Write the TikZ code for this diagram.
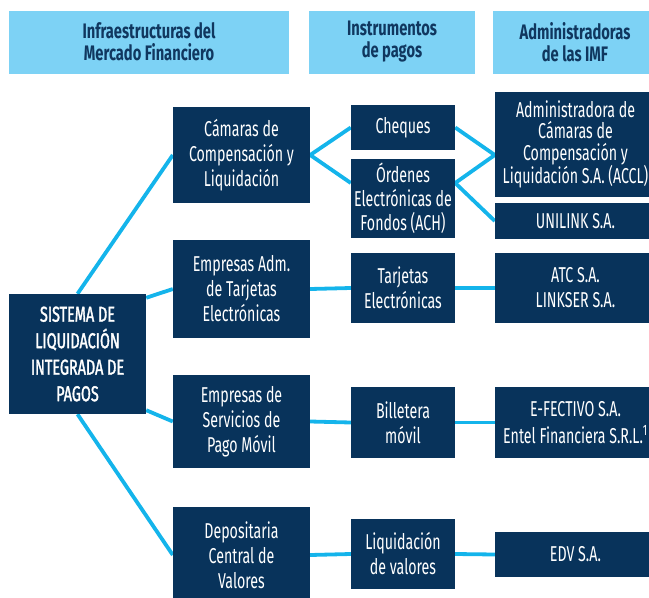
\documentclass[tikz,border=0pt]{standalone}
\usepackage{fontspec}
\newfontfamily\bodyfont{Fira Sans}[FakeStretch=0.66]
\newfontfamily\medfont{Fira Sans}[FakeStretch=0.67, FakeBold=1.5]
\newfontfamily\hdrfont{Fira Sans}[FakeStretch=0.70]
\usetikzlibrary{backgrounds}
\definecolor{navy}{RGB}{8,51,91}
\definecolor{hdrblue}{RGB}{125,210,245}
\definecolor{hdrtext}{RGB}{16,55,95}
\definecolor{linkblue}{RGB}{20,180,235}
\begin{document}
\begin{tikzpicture}[x=1pt,y=-1pt,
  box/.style={fill=navy, text=white, inner sep=0pt, align=center,
    font=\bodyfont\fontsize{21.5}{25}\selectfont},
  hdr/.style={fill=hdrblue, text=hdrtext, inner sep=0pt, align=center,
    font=\hdrfont\bfseries\fontsize{21}{22}\selectfont},
  link/.style={draw=linkblue, line width=3.8pt}]
\useasboundingbox (0,0) rectangle (649,598);
% headers
\node[hdr, minimum width=280pt, minimum height=63pt] (h1) at (149,42) {Infraestructuras del\\Mercado Financiero};
\node[hdr, minimum width=166pt, minimum height=63pt] (h2) at (392,42) {Instrumentos\\de pagos};
\node[hdr, minimum width=164pt, minimum height=63pt] (h3) at (575,42) {Administradoras\\de las IMF};
% root
\node[box, minimum width=137pt, minimum height=120pt, font=\medfont\fontsize{21.5}{26.5}\selectfont] (sis) at (77.5,354) {SISTEMA DE\\LIQUIDACIÓN\\INTEGRADA DE\\PAGOS};
% column 1
\node[box, minimum width=137pt, minimum height=96pt] (cam) at (241.5,155) {Cámaras de\\Compensación y\\Liquidación};
\node[box, minimum width=137pt, minimum height=98pt] (emp) at (241.5,289) {Empresas Adm.\\de Tarjetas\\Electrónicas};
\node[box, minimum width=137pt, minimum height=93pt] (ser) at (241.5,421.5) {Empresas de\\Servicios de\\Pago Móvil};
\node[box, minimum width=137pt, minimum height=96pt] (dep) at (241.5,555) {Depositaria\\Central de\\Valores};
% column 2
\node[box, minimum width=104pt, minimum height=45pt] (che) at (403,127.5) {Cheques};
\node[box, minimum width=104pt, minimum height=79pt, font=\bodyfont\fontsize{21.5}{24}\selectfont] (ord) at (403,198.5) {Órdenes\\Electrónicas de\\Fondos (ACH)};
\node[box, minimum width=104pt, minimum height=70pt] (tar) at (403,288) {Tarjetas\\Electrónicas};
\node[box, minimum width=104pt, minimum height=71pt] (bil) at (403,422.5) {Billetera\\móvil};
\node[box, minimum width=104pt, minimum height=70pt] (liq) at (403,554) {Liquidación\\de valores};
% column 3
\node[box, minimum width=161pt, minimum height=105pt, font=\bodyfont\fontsize{21.5}{21.5}\selectfont] (adm) at (575.5,144.5) {Administradora de\\Cámaras de\\Compensación y\\Liquidación S.A. (ACCL)};
\node[box, minimum width=161pt, minimum height=36pt] (uni) at (575.5,221) {UNILINK S.A.};
\node[box, minimum width=161pt, minimum height=70pt] (atc) at (575.5,288) {ATC S.A.\\LINKSER S.A.};
\node[box, minimum width=161pt, minimum height=71pt, font=\bodyfont\fontsize{21.5}{27}\selectfont] (efe) at (575.5,422.5) {E-FECTIVO S.A.\\Entel Financiera S.R.L.\textsuperscript{1}};
\node[box, minimum width=161pt, minimum height=45pt] (edv) at (575.5,554.5) {EDV S.A.};
% connectors
\coordinate (ordL) at ([yshift=15.5pt]ord.west);
\coordinate (ordR) at ([yshift=15.5pt]ord.east);
\coordinate (admL) at (adm.west |- cam.east);
\coordinate (sisA) at ([yshift=-4pt]sis.north east);
\coordinate (sisB) at ([yshift=4pt]sis.south east);
\begin{scope}[on background layer]
\draw[link] (sis.north) -- (cam.west);
\draw[link] (sisA) -- (emp.west);
\draw[link] (sisB) -- (ser.west);
\draw[link] (sis.south) -- (dep.west);
\draw[link] (cam.east) -- (che.west);
\draw[link] (cam.east) -- (ordL);
\draw[link] (che.east) -- (admL);
\draw[link] (ordR) -- (admL);
\draw[link] (ordR) -- (uni.west);
\draw[link] (emp.east) -- (tar.west);
\draw[link] (tar.east) -- (atc.west);
\draw[link] (ser.east) -- (bil.west);
\draw[link] (bil.east) -- (efe.west);
\draw[link] (dep.east) -- (liq.west);
\draw[link] (liq.east) -- (edv.west);
\end{scope}
\end{tikzpicture}
\end{document}
